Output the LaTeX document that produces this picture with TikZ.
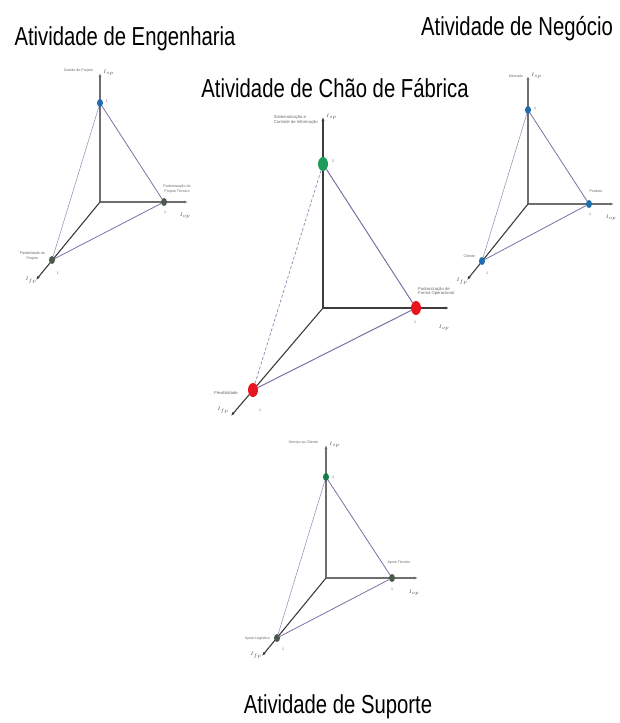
\documentclass[tikz,border=0pt]{standalone}
\usepackage{fontspec}
\setmainfont{Liberation Sans}
\newfontfamily\titlefont[FakeStretch=0.78]{Liberation Sans}
\usetikzlibrary{arrows.meta,shapes.geometric,backgrounds,positioning}

\definecolor{dotblue}{HTML}{1F6DAE}
\definecolor{dotgreen}{HTML}{1E9A5A}
\definecolor{dotred}{HTML}{E8141E}
\definecolor{dotgrey}{HTML}{4B5A4A}
\definecolor{edgeviolet}{HTML}{7E6FA6}
\definecolor{axisgrey}{HTML}{6E6E6E}
\definecolor{axisdark}{HTML}{3C3C3C}

\tikzset{
  axis/.style={axisgrey, line width=1.1pt, -{Latex[length=4pt,width=3pt]}},
  diagaxis/.style={axis, axisdark},
  edge/.style={edgeviolet, line width=0.8pt},
  thinedge/.style={edgeviolet!85, line width=0.5pt},
  dot/.style={ellipse, fill=#1, inner sep=0pt, minimum width=6pt, minimum height=8pt},
  bigdot/.style={dot=#1, minimum width=10pt, minimum height=14pt},
  title/.style={font=\titlefont\fontsize{26}{26}\selectfont, anchor=base, inner sep=0pt},
  tinytext/.style={font=\fontsize{3.6}{4.2}\selectfont, text=black!60, inner sep=0pt, align=center},
  axlabel/.style={font=\fontsize{5}{5}\selectfont, text=black!70, inner sep=0pt},
}

\begin{document}
\begin{tikzpicture}[x=1pt, y=-1pt]
  \useasboundingbox (0,0) rectangle (619,723);

  % Titles
  \node[title] (tEng) at (125,45) {Atividade de Engenharia};
  \node[title] (tNeg) at (517,35) {Atividade de Negócio};
  \node[title] (tFab) at (335,97) {Atividade de Chão de Fábrica};
  \node[title] (tSup) at (338,713) {Atividade de Suporte};

  % Atividade de Engenharia
  \coordinate (eO) at (100,202);
  \coordinate (eTx) at (100,73);
  \coordinate (eRx) at (188,202);
  \coordinate (eLx) at (36,280);
  \node[dot=dotblue] (eT) at (100,103) {};
  \node[dot=dotgrey] (eR) at (164,202) {};
  \node[dot=dotgrey] (eL) at (52,260) {};
  \begin{scope}[on background layer]
    \draw[axis] (eO) -- (eTx);
    \draw[axis] (eO) -- (eRx);
    \draw[diagaxis] (eO) -- (eLx);
    \draw[edge] (eT) -- (eR);
    \draw[thinedge] (eT) -- (eL);
    \draw[edge] (eL) -- (eR);
  \end{scope}
  \node[tinytext, anchor=east] (eTl) at (93,71) {Gestão do Projeto};
  \node[tinytext, anchor=south] (eRl) at (177,193) {Padronização do\\Projeto Técnico};
  \node[tinytext, anchor=east] (eLl) at (45,256) {Flexibilidade do\\Projeto};
  \node[axlabel, right=3pt of eTx] (eTa) {$I_{sp}$};
  \node[axlabel] (eRa) at (185,216) {$I_{op}$};
  \node[axlabel] (eLa) at (31,280) {$I_{fp}$};
  \node[tinytext] (eTn) at (107,101) {1};
  \node[tinytext] (eRn) at (165,212) {1};
  \node[tinytext] (eLn) at (58,273) {1};

  % Atividade de Chão de Fábrica
  \coordinate (cO) at (323,308);
  \coordinate (cTx) at (323,117);
  \coordinate (cRx) at (449,308);
  \coordinate (cLx) at (231,416);
  \node[bigdot=dotgreen] (cT) at (323,164) {};
  \node[bigdot=dotred] (cR) at (416,308) {};
  \node[bigdot=dotred] (cL) at (253,390) {};
  \begin{scope}[on background layer]
    \draw[axis, axisdark] (cO) -- (cTx);
    \draw[axis, axisdark] (cO) -- (cRx);
    \draw[diagaxis] (cO) -- (cLx);
    \draw[edge, line width=1pt] (cT) -- (cR);
    \draw[thinedge, densely dashed, line width=0.7pt] (cT) -- (cL);
    \draw[edge, line width=1pt] (cL) -- (cR);
  \end{scope}
  \node[tinytext, font=\fontsize{4.2}{4.8}\selectfont, align=left, anchor=east] (cTl) at (318,120) {Sistematização e\\Controle de Informação};
  \node[tinytext, font=\fontsize{4.2}{4.8}\selectfont, align=left, anchor=south west] (cRl) at (418,296) {Padronização de\\Forma Operacional};
  \node[tinytext, font=\fontsize{4.2}{4.8}\selectfont, anchor=east] (cLl) at (238,393) {Flexibilidade};
  \node[axlabel, right=3pt of cTx] (cTa) {$I_{sp}$};
  \node[axlabel] (cRa) at (444,328) {$I_{op}$};
  \node[axlabel] (cLa) at (223,410) {$I_{fp}$};
  \node[tinytext] (cTn) at (333,161) {2};
  \node[tinytext] (cRn) at (415,322) {1};
  \node[tinytext] (cLn) at (260,410) {1};

  % Atividade de Negocio
  \coordinate (nO) at (528,204);
  \coordinate (nTx) at (528,76);
  \coordinate (nRx) at (614,204);
  \coordinate (nLx) at (467,280);
  \node[dot=dotblue] (nT) at (528,110) {};
  \node[dot=dotblue] (nR) at (589,204) {};
  \node[dot=dotblue] (nL) at (482,261) {};
  \begin{scope}[on background layer]
    \draw[axis] (nO) -- (nTx);
    \draw[axis] (nO) -- (nRx);
    \draw[diagaxis] (nO) -- (nLx);
    \draw[edge] (nT) -- (nR);
    \draw[thinedge] (nT) -- (nL);
    \draw[edge] (nL) -- (nR);
  \end{scope}
  \node[tinytext, anchor=east] (nTl) at (523,76) {Mercado};
  \node[tinytext, anchor=south] (nRl) at (596,193) {Produto};
  \node[tinytext, anchor=east] (nLl) at (475,256) {Cliente};
  \node[axlabel, right=3pt of nTx] (nTa) {$I_{sp}$};
  \node[axlabel] (nRa) at (611,218) {$I_{op}$};
  \node[axlabel] (nLa) at (462,281) {$I_{fp}$};
  \node[tinytext] (nTn) at (535,108) {1};
  \node[tinytext] (nRn) at (590,214) {1};
  \node[tinytext] (nLn) at (487,273) {1};

  % Atividade de Suporte
  \coordinate (sO) at (326,578);
  \coordinate (sTx) at (326,445);
  \coordinate (sRx) at (418,578);
  \coordinate (sLx) at (262,656);
  \node[dot=dotgreen!80!black] (sT) at (326,477) {};
  \node[dot=dotgrey] (sR) at (392,578) {};
  \node[dot=dotgrey] (sL) at (277,638) {};
  \begin{scope}[on background layer]
    \draw[axis] (sO) -- (sTx);
    \draw[axis] (sO) -- (sRx);
    \draw[diagaxis] (sO) -- (sLx);
    \draw[edge] (sT) -- (sR);
    \draw[thinedge] (sT) -- (sL);
    \draw[edge] (sL) -- (sR);
  \end{scope}
  \node[tinytext, anchor=east] (sTl) at (318,443) {Serviço ao Cliente};
  \node[tinytext, anchor=south] (sRl) at (399,564) {Apoio Técnico};
  \node[tinytext, anchor=east] (sLl) at (270,639) {Apoio Logístico};
  \node[axlabel, right=3pt of sTx] (sTa) {$I_{sp}$};
  \node[axlabel] (sRa) at (414,593) {$I_{op}$};
  \node[axlabel] (sLa) at (256,655) {$I_{fp}$};
  \node[tinytext] (sTn) at (333,477) {1};
  \node[tinytext] (sRn) at (392,589) {1};
  \node[tinytext] (sLn) at (283,649) {1};
\end{tikzpicture}
\end{document}
